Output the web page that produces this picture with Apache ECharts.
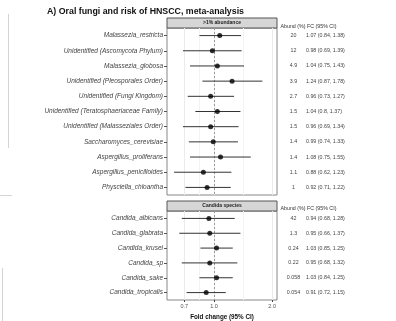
<!DOCTYPE html>
<html>
<head>
<meta charset="utf-8">
<script src="https://cdn.jsdelivr.net/npm/echarts@6/dist/echarts.min.js"></script>
<style>
  html, body { margin: 0; padding: 0; background: #fff; }
  #chart { width: 396px; height: 321px; }
</style>
</head>
<body>
<div id="chart"></div>
<script>
// >1% abundance panel
const topTaxa = [
  'Malassezia_restricta',
  'Unidentified (Ascomycota Phylum)',
  'Malassezia_globosa',
  'Unidentified (Pleosporales Order)',
  'Unidentified (Fungi Kingdom)',
  'Unidentified (Teratosphaeriaceae Family)',
  'Unidentified (Malasseziales Order)',
  'Saccharomyces_cerevisiae',
  'Aspergillus_proliferans',
  'Aspergillus_penicilloides',
  'Physciella_chloantha'
]
const topAbund = [20, 12, 4.9, 3.9, 2.7, 1.5, 1.5, 1.4, 1.4, 1.1, 1]
const topFc = [1.07, 0.98, 1.04, 1.24, 0.96, 1.04, 0.96, 0.99, 1.08, 0.88, 0.92]
const topLo = [0.84, 0.69, 0.75, 0.87, 0.73, 0.8, 0.69, 0.74, 0.75, 0.62, 0.71]
const topHi = [1.38, 1.39, 1.43, 1.78, 1.27, 1.37, 1.34, 1.33, 1.55, 1.23, 1.22]

// Candida species panel
const candidaTaxa = [
  'Candida_albicans',
  'Candida_glabrata',
  'Candida_krusei',
  'Candida_sp',
  'Candida_sake',
  'Candida_tropicalis'
]
const candidaAbund = [42, 1.3, 0.24, 0.22, 0.058, 0.054]
const candidaFc = [0.94, 0.95, 1.03, 0.95, 1.03, 0.91]
const candidaLo = [0.68, 0.66, 0.85, 0.68, 0.84, 0.72]
const candidaHi = [1.28, 1.37, 1.25, 1.32, 1.25, 1.15]

const xTicks = [0.7, 1, 2]
const minorBreaks = [0.837, 1.414]

const FONT = '"Liberation Sans", Arial, sans-serif'
const chart = echarts.init(document.getElementById('chart'))

function fcLabel(fc, lo, hi) {
  return fc + ' (' + lo + ', ' + hi + ')'
}

// data item: [lo, row, hi]
function errorBar(params, api) {
  const y = api.value(1)
  const a = api.coord([api.value(0), y])
  const b = api.coord([api.value(2), y])
  return {
    type: 'line',
    shape: {x1: a[0], y1: a[1], x2: b[0], y2: b[1]},
    style: {stroke: '#333', lineWidth: 1}
  }
}

function xAxisFor(gridIndex, withLabels) {
  return {
    type: 'log',
    logBase: 10,
    gridIndex: gridIndex,
    min: 0.57,
    max: 2.12,
    axisLine: {show: false},
    axisTick: {show: withLabels, customValues: xTicks, length: 2, lineStyle: {color: '#444'}},
    axisLabel: {
      show: withLabels,
      customValues: xTicks,
      formatter: v => Number(v).toFixed(1),
      fontSize: 5.5,
      color: '#555',
      fontFamily: FONT,
      margin: 3
    },
    splitLine: {show: true, lineStyle: {color: '#ebebeb', width: 1}},
    name: withLabels ? 'Fold change (95% CI)' : '',
    nameLocation: 'middle',
    nameGap: 14,
    nameTextStyle: {fontSize: 6.3, fontWeight: 'bold', color: '#111', fontFamily: FONT}
  }
}

function yAxesFor(gridIndex, taxa, abund, fc, lo, hi) {
  return [
    {
      type: 'category',
      gridIndex: gridIndex,
      data: taxa,
      inverse: true,
      axisLine: {show: false},
      axisTick: {show: true, alignWithLabel: true, length: 3, lineStyle: {color: '#555'}},
      axisLabel: {fontSize: 6.5, fontStyle: 'italic', color: '#444', fontFamily: FONT, margin: 4, interval: 0}
    },
    {
      type: 'category',
      gridIndex: gridIndex,
      data: taxa,
      inverse: true,
      position: 'right',
      axisLine: {show: false},
      axisTick: {show: false},
      axisLabel: {
        interval: 0,
        margin: 4,
        formatter: (v, i) => '{a|' + abund[i] + '}{b|' + fcLabel(fc[i], lo[i], hi[i]) + '}',
        rich: {
          a: {width: 25, align: 'center', fontSize: 5.3, color: '#444', fontFamily: FONT},
          b: {align: 'left', fontSize: 5.3, color: '#444', fontFamily: FONT}
        }
      }
    }
  ]
}

function panelSeries(idx, fc, lo, hi) {
  const bars = lo.map((v, i) => [v, i, hi[i]])
  const pts = fc.map((v, i) => [v, i])
  return [
    {
      type: 'custom',
      xAxisIndex: idx,
      yAxisIndex: idx * 2,
      renderItem: errorBar,
      data: bars,
      z: 3,
      silent: true
    },
    {
      type: 'scatter',
      xAxisIndex: idx,
      yAxisIndex: idx * 2,
      data: pts,
      symbolSize: 5,
      itemStyle: {color: '#000'},
      z: 4,
      silent: true,
      markLine: {
        silent: true,
        symbol: 'none',
        label: {show: false},
        z: 1,
        data: [
          {xAxis: minorBreaks[0], lineStyle: {color: '#f3f3f3', type: 'solid', width: 1}},
          {xAxis: minorBreaks[1], lineStyle: {color: '#f3f3f3', type: 'solid', width: 1}},
          {xAxis: 1, lineStyle: {color: '#9a9a9a', type: [2, 2], width: 1}}
        ]
      }
    }
  ]
}

function strip(y, label) {
  return [
    {
      type: 'rect',
      shape: {x: 167, y: y, width: 110, height: 10},
      style: {fill: '#d6d6d6', stroke: '#555', lineWidth: 1}
    },
    {
      type: 'text',
      x: 222,
      y: y + 5,
      style: {text: label, font: 'bold 5px ' + FONT, fill: '#222', align: 'center', verticalAlign: 'middle'}
    }
  ]
}

function colHeads(y) {
  return [
    {type: 'text', x: 293, y: y, style: {text: 'Abund (%)', font: '5.3px ' + FONT, fill: '#333', align: 'center', verticalAlign: 'middle'}},
    {type: 'text', x: 307, y: y, style: {text: 'FC (95% CI)', font: '5.3px ' + FONT, fill: '#333', align: 'left', verticalAlign: 'middle'}}
  ]
}

const option = {
  animation: false,
  backgroundColor: '#fff',
  textStyle: {fontFamily: FONT},
  grid: [
    {left: 167, width: 110, top: 28, height: 167, show: true, borderColor: '#888', borderWidth: 1, backgroundColor: '#fff'},
    {left: 167, width: 110, top: 211, height: 93, show: true, borderColor: '#888', borderWidth: 1, backgroundColor: '#fff'}
  ],
  xAxis: [xAxisFor(0, false), xAxisFor(1, true)],
  yAxis: [
    ...yAxesFor(0, topTaxa, topAbund, topFc, topLo, topHi),
    ...yAxesFor(1, candidaTaxa, candidaAbund, candidaFc, candidaLo, candidaHi)
  ],
  series: [
    ...panelSeries(0, topFc, topLo, topHi),
    ...panelSeries(1, candidaFc, candidaLo, candidaHi)
  ],
  graphic: [
    {
      type: 'text',
      x: 47,
      y: 12,
      style: {text: 'A) Oral fungi and risk of HNSCC, meta-analysis', font: 'bold 8.8px ' + FONT, fill: '#111', verticalAlign: 'middle'}
    },
    ...strip(18, '>1% abundance'),
    ...strip(201, 'Candida species'),
    ...colHeads(27),
    ...colHeads(209),
    // edges of the neighbouring panels cut off on the left
    {type: 'line', shape: {x1: 8.5, y1: 14, x2: 8.5, y2: 148}, style: {stroke: '#d4d4d4', lineWidth: 1}},
    {type: 'line', shape: {x1: 0, y1: 195.5, x2: 12, y2: 195.5}, style: {stroke: '#d4d4d4', lineWidth: 1}},
    {type: 'line', shape: {x1: 2.5, y1: 268, x2: 2.5, y2: 321}, style: {stroke: '#d4d4d4', lineWidth: 1}}
  ]
}

chart.setOption(option)
</script>
</body>
</html>
